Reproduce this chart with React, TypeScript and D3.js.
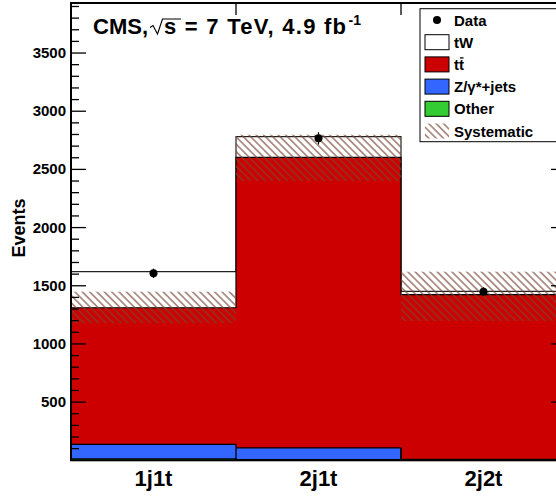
import React, { useRef, useEffect } from 'react';
import * as d3 from 'd3';

// bins
const categories = ['1j1t', '2j1t', '2j2t'];

// stacked contributions per bin (events)
const otherVals = [12, 6, 4];
const zjetsVals = [125, 100, 5];
const ttbarVals = [1174, 2498, 1414];
const twVals = [310, 177, 29];

// observed data
const dataVals = [1607, 2767, 1449];

// systematic band limits
const systLow = [1177, 2400, 1197];
const systHigh = [1449, 2798, 1621];

const yMajor = [500, 1000, 1500, 2000, 2500, 3000, 3500];

const legendItems = [
  { key: 'data', label: 'Data' },
  { key: 'tw', label: 'tW' },
  { key: 'tt', label: 'tt' },
  { key: 'z', label: 'Z/γ*+jets' },
  { key: 'other', label: 'Other' },
  { key: 'syst', label: 'Systematic' },
];

const W = 556;
const H = 498;
const FONT = '"Liberation Sans", Arial, Helvetica, sans-serif';

const StackChart: React.FC = () => {
  const svgRef = useRef<SVGSVGElement>(null);

  useEffect(() => {
    if (!svgRef.current) return;
    const svg = d3.select(svgRef.current);
    svg.selectAll('*').remove();

    const left = 71;
    const right = 566;
    const top = 3;
    const bottom = 460.3;

    const x = d3.scaleLinear().domain([0, 3]).range([left, right]);
    const y = d3.scaleLinear().domain([0, 3930]).range([bottom, top]);

    // hatch pattern for the systematic band
    const defs = svg.append('defs');
    defs
      .append('pattern')
      .attr('id', 'hatch')
      .attr('patternUnits', 'userSpaceOnUse')
      .attr('width', 10)
      .attr('height', 5.2)
      .attr('patternTransform', 'rotate(45)')
      .append('line')
      .attr('x1', 0)
      .attr('x2', 10)
      .attr('y1', 2.6)
      .attr('y2', 2.6)
      .attr('stroke', '#7a4636')
      .attr('stroke-width', 1.1);

    // cumulative stacks
    const s1 = otherVals;
    const s2 = s1.map((v, i) => v + zjetsVals[i]);
    const s3 = s2.map((v, i) => v + ttbarVals[i]);
    const s4 = s3.map((v, i) => v + twVals[i]);

    const layers = [
      { vals: s4, fill: '#ffffff', stroke: '#222' },
      { vals: s3, fill: '#cc0000', stroke: '#000' },
      { vals: s2, fill: '#3366ff', stroke: '#000' },
      { vals: s1, fill: '#33cc33', stroke: '#000' },
    ];

    const area = d3
      .area<[number, number]>()
      .x((d) => x(d[0]))
      .y0(y(0))
      .y1((d) => y(d[1]))
      .curve(d3.curveStepAfter);

    const line = d3
      .line<[number, number]>()
      .x((d) => x(d[0]))
      .y((d) => y(d[1]))
      .curve(d3.curveStepAfter);

    const g = svg.append('g');

    layers.forEach((layer) => {
      const pts: [number, number][] = layer.vals.map((v, i) => [i, v]);
      pts.push([3, layer.vals[2]]);
      g.append('path').attr('d', area(pts)).attr('fill', layer.fill);
      const outline: [number, number][] = [[0, 0], ...pts, [3, 0]];
      g.append('path')
        .attr('d', line(outline))
        .attr('fill', 'none')
        .attr('stroke', layer.stroke)
        .attr('stroke-width', 1.2);
    });

    // systematic band
    g.selectAll('.syst')
      .data(categories)
      .enter()
      .append('rect')
      .attr('x', (_, i) => x(i))
      .attr('width', (_, i) => x(i + 1) - x(i))
      .attr('y', (_, i) => y(systHigh[i]))
      .attr('height', (_, i) => y(systLow[i]) - y(systHigh[i]))
      .attr('fill', 'url(#hatch)');

    // axes ticks
    const minor = d3.range(100, 3901, 100).filter((v) => v % 500 !== 0);
    const axisG = svg.append('g');
    const tickLines = (vals: number[], len: number) => {
      vals.forEach((v) => {
        axisG
          .append('line')
          .attr('x1', left)
          .attr('x2', left + len)
          .attr('y1', y(v))
          .attr('y2', y(v))
          .attr('stroke', '#000')
          .attr('stroke-width', 1.3);
        axisG
          .append('line')
          .attr('x1', right)
          .attr('x2', right - len)
          .attr('y1', y(v))
          .attr('y2', y(v))
          .attr('stroke', '#000')
          .attr('stroke-width', 1.3);
      });
    };
    tickLines(yMajor, 15);
    tickLines(minor, 8);

    [1, 2].forEach((b) => {
      axisG
        .append('line')
        .attr('x1', x(b))
        .attr('x2', x(b))
        .attr('y1', top)
        .attr('y2', top + 12)
        .attr('stroke', '#000')
        .attr('stroke-width', 1.3);
      axisG
        .append('line')
        .attr('x1', x(b))
        .attr('x2', x(b))
        .attr('y1', bottom)
        .attr('y2', bottom - 12)
        .attr('stroke', '#000')
        .attr('stroke-width', 1.3);
    });

    // frame
    svg
      .append('rect')
      .attr('x', left)
      .attr('y', top)
      .attr('width', right - left)
      .attr('height', bottom - top)
      .attr('fill', 'none')
      .attr('stroke', '#000')
      .attr('stroke-width', 2);

    // y labels
    svg
      .append('g')
      .selectAll('text')
      .data(yMajor)
      .enter()
      .append('text')
      .attr('x', 66)
      .attr('y', (d) => y(d) + 5)
      .attr('text-anchor', 'end')
      .attr('font-family', FONT)
      .attr('font-weight', 'bold')
      .attr('font-size', 15)
      .text((d) => d);

    // x labels
    svg
      .append('g')
      .selectAll('text')
      .data(categories)
      .enter()
      .append('text')
      .attr('x', (_, i) => x(i + 0.5))
      .attr('y', 486)
      .attr('text-anchor', 'middle')
      .attr('font-family', FONT)
      .attr('font-weight', 'bold')
      .attr('font-size', 22)
      .text((d) => d);

    // y title
    svg
      .append('text')
      .attr('transform', 'translate(25,228) rotate(-90)')
      .attr('text-anchor', 'middle')
      .attr('font-family', FONT)
      .attr('font-weight', 'bold')
      .attr('font-size', 18)
      .text('Events');

    // data points
    const pts = svg.append('g');
    dataVals.forEach((v, i) => {
      const err = Math.sqrt(v);
      pts
        .append('line')
        .attr('x1', x(i + 0.5))
        .attr('x2', x(i + 0.5))
        .attr('y1', y(v - err))
        .attr('y2', y(v + err))
        .attr('stroke', '#000')
        .attr('stroke-width', 1.2);
      pts
        .append('circle')
        .attr('cx', x(i + 0.5))
        .attr('cy', y(v))
        .attr('r', 4)
        .attr('fill', '#000');
    });

    // title
    const title = svg
      .append('g')
      .attr('font-family', FONT)
      .attr('font-weight', 'bold')
      .attr('font-size', 22);
    title.append('text').attr('x', 93).attr('y', 34.3).text('CMS,');
    title
      .append('path')
      .attr('d', 'M150,27.5 L153,25.5 L157.5,34 L162.5,19 L181,19')
      .attr('fill', 'none')
      .attr('stroke', '#000')
      .attr('stroke-width', 1.1);
    title
      .append('text')
      .attr('x', 164)
      .attr('y', 34.3)
      .attr('textLength', 182)
      .attr('lengthAdjust', 'spacing')
      .text('s = 7 TeV, 4.9 fb');
    title
      .append('text')
      .attr('x', 348.5)
      .attr('y', 25)
      .attr('font-size', 14)
      .text('-1');

    // legend
    const lg = svg.append('g').attr('font-family', FONT).attr('font-weight', 'bold');
    lg.append('rect')
      .attr('x', 420)
      .attr('y', 8.7)
      .attr('width', 150)
      .attr('height', 133)
      .attr('fill', '#fff')
      .attr('stroke', '#000')
      .attr('stroke-width', 1);

    const fills: Record<string, string> = {
      tw: '#ffffff',
      tt: '#cc0000',
      z: '#3366ff',
      other: '#33cc33',
    };

    legendItems.forEach((item, i) => {
      const cy = 20 + i * 22.2;
      if (item.key === 'data') {
        lg.append('circle').attr('cx', 437).attr('cy', cy).attr('r', 4).attr('fill', '#000');
      } else if (item.key === 'syst') {
        lg.append('rect')
          .attr('x', 425)
          .attr('y', cy - 7.5)
          .attr('width', 24)
          .attr('height', 15)
          .attr('fill', 'url(#hatch)');
      } else {
        lg.append('rect')
          .attr('x', 425)
          .attr('y', cy - 7.5)
          .attr('width', 24)
          .attr('height', 15)
          .attr('fill', fills[item.key])
          .attr('stroke', '#000')
          .attr('stroke-width', 1);
      }
      const t = lg
        .append('text')
        .attr('x', 454)
        .attr('y', cy + 5.5)
        .attr('font-size', 15)
        .text(item.label);
      if (item.key === 'tt') {
        // bar over the second t
        const bb = (t.node() as SVGTextElement).getBBox();
        lg.append('line')
          .attr('x1', bb.x + bb.width / 2 + 1)
          .attr('x2', bb.x + bb.width - 0.5)
          .attr('y1', cy - 6.5)
          .attr('y2', cy - 6.5)
          .attr('stroke', '#000')
          .attr('stroke-width', 1.3);
      }
    });
  }, []);

  return (
    <svg
      ref={svgRef}
      width={W}
      height={H}
      style={{ position: 'absolute', left: 0, top: 0, background: '#fff', overflow: 'hidden' }}
    />
  );
};

export default function App() {
  return <StackChart />;
}
